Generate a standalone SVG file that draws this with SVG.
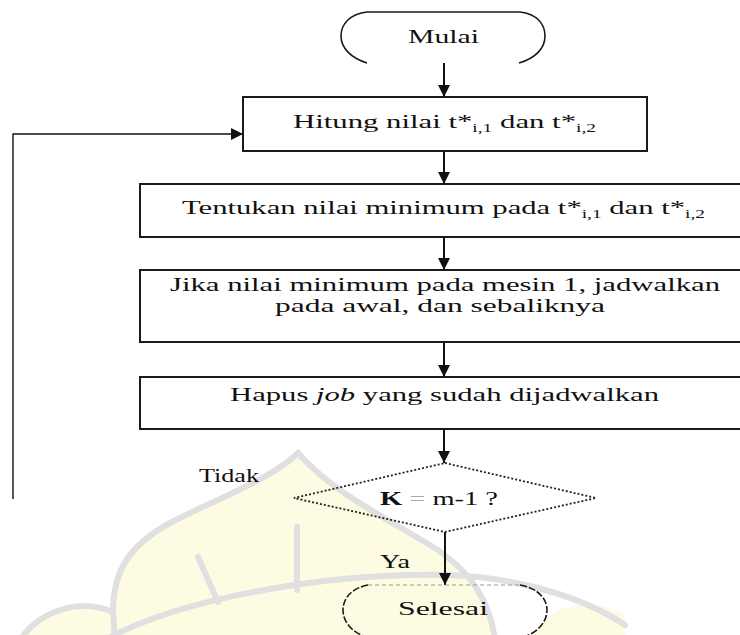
<svg xmlns="http://www.w3.org/2000/svg" width="740" height="635" viewBox="0 0 740 635">
<style>
.box{fill:#fff;stroke:#1a1a1a;stroke-width:2}
.t{font-family:"Liberation Serif","Times New Roman",serif;font-size:19px;fill:#111}
.sub{font-size:12px}
.con{stroke:#111;stroke-width:2;fill:none}
.term{fill:none;stroke:#1a1a1a;stroke-width:1.6}
.wm{fill:none;stroke:#e0e0e0;stroke-width:6;stroke-linecap:round}
</style>
<defs>
<marker id="ah" markerUnits="userSpaceOnUse" markerWidth="12" markerHeight="12" refX="12" refY="6" orient="auto">
<path d="M0,0 L12,6 L0,12 Z" fill="#111"/>
</marker>
</defs>
<rect width="740" height="635" fill="#fff"/>
<g id="watermark">
<path d="M113 640 L113 612 C113 570,130 545,170 523 C220 497,270 480,298 453 C330 490,380 515,430 545 C470 570,490 600,495 640 Z" fill="#fdfbe2" stroke="none"/>
<path d="M20 640 C40 610,80 598,113 612 L113 640 Z" fill="#fdfbe2" stroke="none"/>
<path d="M530 640 C545 605,590 595,625 615 L625 640 Z" fill="#fdfbe2" stroke="none"/>
<path class="wm" d="M115 640 L113 612 C113 570,130 545,170 523 C220 497,270 480,298 453 C330 490,380 515,430 545 C470 570,490 600,495 640"/>
<path class="wm" d="M20 640 C40 610,80 598,113 612"/>
<path class="wm" d="M105 640 C180 598,330 572,450 575 C520 578,585 598,625 625"/>
<path class="wm" d="M198 557 L218 602"/>
<path class="wm" d="M297 527 L297 590"/>
</g>
<g id="connectors">
<line class="con" x1="444" y1="63" x2="444" y2="97" marker-end="url(#ah)"/>
<line class="con" x1="444" y1="151" x2="444" y2="184" marker-end="url(#ah)"/>
<line class="con" x1="444" y1="237" x2="444" y2="270" marker-end="url(#ah)"/>
<line class="con" x1="444" y1="342" x2="444" y2="377" marker-end="url(#ah)"/>
<line class="con" x1="444" y1="429" x2="444" y2="463" marker-end="url(#ah)"/>
<line class="con" x1="445" y1="532" x2="445" y2="585" marker-end="url(#ah)"/>
<path d="M13 499 L13 134 L243 134" fill="none" stroke="#111" stroke-width="1.4" marker-end="url(#ah)"/>
<text class="t" x="199" y="482" textLength="60" lengthAdjust="spacingAndGlyphs">Tidak</text>
<text class="t" x="380" y="568" textLength="30" lengthAdjust="spacingAndGlyphs">Ya</text>
</g>
<g id="mulai">
<path class="term" d="M367 12 L520 12 M367 12 C350 14,341 24,341 36 C341 48,351 58,367 63 M520 12 C537 14,545 24,545 36 C545 48,536 58,519 63"/>
<text class="t" x="408" y="43" textLength="71" lengthAdjust="spacingAndGlyphs">Mulai</text>
</g>
<g id="hitung">
<rect class="box" x="243" y="97" width="404" height="54"/>
<text class="t" x="293" y="128" textLength="303" lengthAdjust="spacingAndGlyphs">Hitung nilai t*<tspan class="sub" dy="4">i,1</tspan><tspan dy="-4"> dan t*</tspan><tspan class="sub" dy="4">i,2</tspan></text>
</g>
<g id="tentukan">
<rect class="box" x="140" y="184" width="602" height="53"/>
<text class="t" x="182" y="214" textLength="523" lengthAdjust="spacingAndGlyphs">Tentukan nilai minimum pada t*<tspan class="sub" dy="4">i,1</tspan><tspan dy="-4"> dan t*</tspan><tspan class="sub" dy="4">i,2</tspan></text>
</g>
<g id="jika">
<rect class="box" x="140" y="270" width="602" height="72"/>
<text class="t" style="font-size:18px" x="170" y="291" textLength="550" lengthAdjust="spacingAndGlyphs">Jika nilai minimum pada mesin 1, jadwalkan</text>
<text class="t" style="font-size:18px" x="275" y="312" textLength="330" lengthAdjust="spacingAndGlyphs">pada awal, dan sebaliknya</text>
</g>
<g id="hapus">
<rect class="box" x="140" y="377" width="602" height="52"/>
<text class="t" x="230" y="401" textLength="429" lengthAdjust="spacingAndGlyphs">Hapus <tspan font-style="italic">job</tspan> yang sudah dijadwalkan</text>
</g>
<g id="decision">
<polygon points="445,463 596,498 445,532 294,498" fill="none" stroke="#222" stroke-width="1.8" stroke-dasharray="2 2"/>
<text class="t" x="380" y="505" textLength="118" lengthAdjust="spacingAndGlyphs"><tspan font-weight="bold">K</tspan><tspan fill="#aaa"> = </tspan>m-1 ?</text>
</g>
<g id="selesai">
<path d="M368 585 L520 585" fill="none" stroke="#999" stroke-width="1.2" stroke-dasharray="4 3"/>
<path class="term" stroke-dasharray="7 2" d="M368 585 C352 588,343 598,343 610 C343 622,352 632,366 637 M520 585 C537 588,547 598,547 610 C547 622,538 632,524 637"/>
<text class="t" x="398" y="615" textLength="90" lengthAdjust="spacingAndGlyphs">Selesai</text>
</g>
</svg>
